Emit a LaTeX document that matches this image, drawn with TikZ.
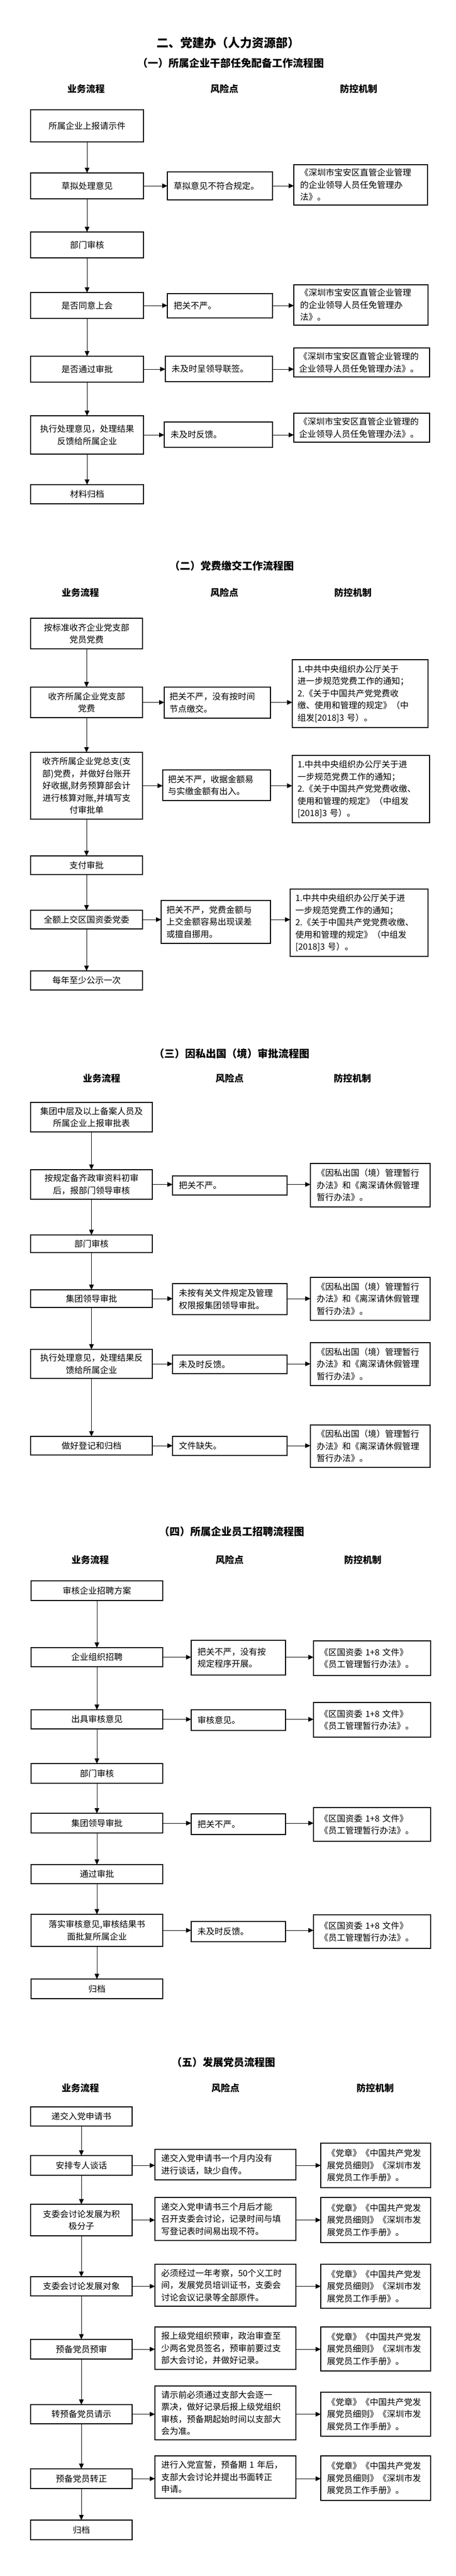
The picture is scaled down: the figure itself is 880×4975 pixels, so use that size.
\documentclass[tikz,border=0pt]{standalone}
\usepackage{fontspec}
\setmainfont{Noto Sans CJK SC}
\usetikzlibrary{arrows.meta}
\newcommand{\fs}{\fontsize{16.5}{23.5}\selectfont}
\newcommand{\bx}[8]{%
 \pgfmathsetmacro{\bxw}{#6-#4}%
 \pgfmathsetmacro{\bxh}{#7-#5}%
 \pgfmathsetmacro{\bxcx}{(#4+#6)/2}%
 \pgfmathsetmacro{\bxcy}{(#5+#7)/2}%
 \pgfmathsetmacro{\bxtw}{#6-#4-2*#3}%
 \node[#2, inner xsep=#3pt, minimum width=\bxw pt, minimum height=\bxh pt, text width=\bxtw pt] (#1) at (\bxcx,\bxcy) {#8};}
\tikzset{
 boxbase/.style={draw=black, line width=1.3pt, outer sep=0pt, inner ysep=2pt, font=\fs},
 mainb/.style={boxbase, align=center},
 riskb/.style={boxbase, align=left},
 ctrlb/.style={boxbase, align=left},
 arr/.style={-{Triangle[length=10pt,width=9pt]}, line width=1pt},
 ttl/.style={font=\bfseries\fontsize{23}{28}\selectfont},
 sttl/.style={font=\bfseries\fontsize{20}{24}\selectfont},
 hdr/.style={font=\bfseries\fontsize{18}{22}\selectfont}
}
\begin{document}
\begin{tikzpicture}[x=1pt,y=-1pt]
\fill[white] (0,0) rectangle (880,4975);
\useasboundingbox (0,0) rectangle (880,4975);
% ---------- Title ----------
\node[ttl] (t0) at (440,83) {二、党建办（人力资源部）};
% ---------- Section 1 ----------
\node[sttl] (s1) at (445,122) {（一）所属企业干部任免配备工作流程图};
\node[hdr] (h1a) at (166,172) {业务流程};
\node[hdr] (h1b) at (433,172) {风险点};
\node[hdr] (h1c) at (692,172) {防控机制};
\bx{a1}{mainb}{6}{59}{212}{277}{274}{所属企业上报请示件}
\bx{a2}{mainb}{6}{59}{334}{277}{384}{草拟处理意见}
\bx{r2}{riskb}{12}{323}{332}{526}{386}{草拟意见不符合规定。}
\bx{c2}{ctrlb}{12}{567}{318}{825}{396}{《深圳市宝安区直管企业管理\\的企业领导人员任免管理办\\法》。}
\bx{a3}{mainb}{6}{59}{448}{277}{498}{部门审核}
\bx{a4}{mainb}{6}{59}{565}{277}{615}{是否同意上会}
\bx{r4}{riskb}{12}{323}{567}{526}{614}{把关不严。}
\bx{c4}{ctrlb}{12}{567}{550}{826}{628}{《深圳市宝安区直管企业管理\\的企业领导人员任免管理办\\法》。}
\bx{a5}{mainb}{6}{59}{688}{277}{738}{是否通过审批}
\bx{r5}{riskb}{12}{319}{688}{526}{737}{未及时呈领导联签。}
\bx{c5}{ctrlb}{10}{567}{672}{829}{728}{《深圳市宝安区直管企业管理的\\企业领导人员任免管理办法》。}
\bx{a6}{mainb}{6}{59}{803}{277}{877}{执行处理意见，处理结果\\反馈给所属企业}
\bx{r6}{riskb}{12}{317}{815}{526}{864}{未及时反馈。}
\bx{c6}{ctrlb}{10}{567}{798}{829}{854}{《深圳市宝安区直管企业管理的\\企业领导人员任免管理办法》。}
\bx{a7}{mainb}{6}{59}{936}{277}{973}{材料归档}
\draw[arr] (a1) -- (a2);
\draw[arr] (a2) -- (a3);
\draw[arr] (a3) -- (a4);
\draw[arr] (a4) -- (a5);
\draw[arr] (a5) -- (a6);
\draw[arr] (a6) -- (a7);
\foreach \m/\r/\c in {a2/r2/c2, a4/r4/c4, a5/r5/c5, a6/r6/c6}{
 \draw[arr] (\m.east) -- (\m.east -| \r.west);
 \draw[arr] (\r.east |- \m.east) -- (\c.west |- \m.east);
}
% ---------- Section 2 ----------
\node[sttl] (s2) at (447,1093) {（二）党费缴交工作流程图};
\node[hdr] (h2a) at (155,1145) {业务流程};
\node[hdr] (h2b) at (433,1145) {风险点};
\node[hdr] (h2c) at (681,1145) {防控机制};
\bx{b1}{mainb}{6}{59}{1194}{275}{1253}{按标准收齐企业党支部\\党员党费}
\bx{b2}{mainb}{6}{59}{1327}{275}{1386}{收齐所属企业党支部\\党费}
\bx{rb2}{riskb}{10}{317}{1327}{522}{1387}{把关不严，没有按时间\\节点缴交。}
\bx{cb2}{ctrlb}{10}{564}{1274}{826}{1405}{1.中共中央组织办公厅关于\\进一步规范党费工作的通知；\\2.《关于中国共产党党费收\\缴、使用和管理的规定》（中\\组发[2018]3 号）。}
\bx{b3}{mainb}{6}{59}{1453}{275}{1582}{收齐所属企业党总支(支\\部)党费，并做好台账开\\好收据,财务预算部会计\\进行核算对账,并填写支\\付审批单}
\bx{rb3}{riskb}{10}{314}{1487}{522}{1546}{把关不严，收据金额易\\与实缴金额有出入。}
\bx{cb3}{ctrlb}{10}{564}{1459}{829}{1589}{1.中共中央组织办公厅关于进\\一步规范党费工作的通知；\\2.《关于中国共产党党费收缴、\\使用和管理的规定》（中组发\\{}[2018]3 号）。}
\bx{b4}{mainb}{6}{59}{1653}{275}{1689}{支付审批}
\bx{b5}{mainb}{6}{59}{1758}{275}{1794}{全额上交区国资委党委}
\bx{rb5}{riskb}{10}{311}{1739}{522}{1822}{把关不严，党费金额与\\上交金额容易出现误差\\或擅自挪用。}
\bx{cb5}{ctrlb}{10}{560}{1717}{826}{1847}{1.中共中央组织办公厅关于进\\一步规范党费工作的通知；\\2.《关于中国共产党党费收缴、\\使用和管理的规定》（中组发\\{}[2018]3 号）。}
\bx{b6}{mainb}{6}{59}{1875}{275}{1912}{每年至少公示一次}
\draw[arr] (b1) -- (b2);
\draw[arr] (b2) -- (b3);
\draw[arr] (b3) -- (b4);
\draw[arr] (b4) -- (b5);
\draw[arr] (b5) -- (b6);
\foreach \m/\r/\c in {b2/rb2/cb2, b3/rb3/cb3, b5/rb5/cb5}{
 \draw[arr] (\m.east) -- (\m.east -| \r.west);
 \draw[arr] (\r.east |- \m.east) -- (\c.west |- \m.east);
}
% ---------- Section 3 ----------
\node[sttl] (s3) at (447,2035) {（三）因私出国（境）审批流程图};
\node[hdr] (h3a) at (196,2083) {业务流程};
\node[hdr] (h3b) at (443,2083) {风险点};
\node[hdr] (h3c) at (680,2083) {防控机制};
\bx{c1}{mainb}{6}{59}{2129}{294}{2186}{集团中层及以上备案人员及\\所属企业上报审批表}
\bx{c2x}{mainb}{6}{59}{2259}{294}{2316}{按规定备齐政审资料初审\\后，报部门领导审核}
\bx{rc2}{riskb}{12}{333}{2271}{554}{2308}{把关不严。}
\bx{cc2}{ctrlb}{12}{599}{2247}{830}{2331}{《因私出国（境）管理暂行\\办法》和《离深请休假管理\\暂行办法》。}
\bx{c3}{mainb}{6}{59}{2385}{294}{2419}{部门审核}
\bx{c4x}{mainb}{6}{59}{2491}{294}{2525}{集团领导审批}
\bx{rc4}{riskb}{12}{333}{2479}{554}{2539}{未按有关文件规定及管理\\权限报集团领导审批。}
\bx{cc4}{ctrlb}{12}{599}{2467}{830}{2550}{《因私出国（境）管理暂行\\办法》和《离深请休假管理\\暂行办法》。}
\bx{c5x}{mainb}{6}{59}{2606}{294}{2662}{执行处理意见，处理结果反\\馈给所属企业}
\bx{rc5}{riskb}{12}{333}{2617}{554}{2653}{未及时反馈。}
\bx{cc5}{ctrlb}{12}{599}{2593}{830}{2676}{《因私出国（境）管理暂行\\办法》和《离深请休假管理\\暂行办法》。}
\bx{c6x}{mainb}{6}{59}{2774}{294}{2810}{做好登记和归档}
\bx{rc6}{riskb}{12}{333}{2774}{554}{2811}{文件缺失。}
\bx{cc6}{ctrlb}{12}{599}{2752}{830}{2834}{《因私出国（境）管理暂行\\办法》和《离深请休假管理\\暂行办法》。}
\draw[arr] (c1) -- (c2x);
\draw[arr] (c2x) -- (c3);
\draw[arr] (c3) -- (c4x);
\draw[arr] (c4x) -- (c5x);
\draw[arr] (c5x) -- (c6x);
\foreach \m/\r/\c in {c2x/rc2/cc2, c4x/rc4/cc4, c5x/rc5/cc5, c6x/rc6/cc6}{
 \draw[arr] (\m.east) -- (\m.east -| \r.west);
 \draw[arr] (\r.east |- \m.east) -- (\c.west |- \m.east);
}
% ---------- Section 4 ----------
\node[sttl] (s4) at (447,2958) {（四）所属企业员工招聘流程图};
\node[hdr] (h4a) at (174,3013) {业务流程};
\node[hdr] (h4b) at (443,3013) {风险点};
\node[hdr] (h4c) at (700,3013) {防控机制};
\bx{d1}{mainb}{6}{60}{3053}{314}{3091}{审核企业招聘方案}
\bx{d2}{mainb}{6}{60}{3182}{314}{3219}{企业组织招聘}
\bx{rd2}{riskb}{12}{369}{3168}{551}{3235}{把关不严，没有按\\规定程序开展。}
\bx{cd2}{ctrlb}{12}{605}{3169}{831}{3236}{《区国资委 1+8 文件》\\《员工管理暂行办法》。}
\bx{d3}{mainb}{6}{60}{3302}{314}{3339}{出具审核意见}
\bx{rd3}{riskb}{12}{369}{3302}{551}{3342}{审核意见。}
\bx{cd3}{ctrlb}{12}{605}{3288}{831}{3355}{《区国资委 1+8 文件》\\《员工管理暂行办法》。}
\bx{d4}{mainb}{6}{60}{3406}{314}{3444}{部门审核}
\bx{d5}{mainb}{6}{60}{3502}{314}{3540}{集团领导审批}
\bx{rd5}{riskb}{12}{369}{3503}{551}{3543}{把关不严。}
\bx{cd5}{ctrlb}{12}{605}{3491}{831}{3556}{《区国资委 1+8 文件》\\《员工管理暂行办法》。}
\bx{d6}{mainb}{6}{60}{3601}{314}{3638}{通过审批}
\bx{d7}{mainb}{6}{60}{3697}{314}{3759}{落实审核意见,审核结果书\\面批复所属企业}
\bx{rd7}{riskb}{12}{369}{3711}{551}{3750}{未及时反馈。}
\bx{cd7}{ctrlb}{12}{605}{3698}{831}{3763}{《区国资委 1+8 文件》\\《员工管理暂行办法》。}
\bx{d8}{mainb}{6}{60}{3822}{314}{3860}{归档}
\draw[arr] (d1) -- (d2);
\draw[arr] (d2) -- (d3);
\draw[arr] (d3) -- (d4);
\draw[arr] (d4) -- (d5);
\draw[arr] (d5) -- (d6);
\draw[arr] (d6) -- (d7);
\draw[arr] (d7) -- (d8);
\foreach \m/\r/\c in {d2/rd2/cd2, d3/rd3/cd3, d5/rd5/cd5, d7/rd7/cd7}{
 \draw[arr] (\m.east) -- (\m.east -| \r.west);
 \draw[arr] (\r.east |- \m.east) -- (\c.west |- \m.east);
}
% ---------- Section 5 ----------
\node[sttl] (s5) at (431,3983) {（五）发展党员流程图};
\node[hdr] (h5a) at (155,4033) {业务流程};
\node[hdr] (h5b) at (435,4033) {风险点};
\node[hdr] (h5c) at (724,4033) {防控机制};
\bx{e1}{mainb}{6}{59}{4069}{255}{4106}{递交入党申请书}
\bx{e2}{mainb}{6}{59}{4163}{255}{4201}{安排专人谈话}
\bx{re2}{riskb}{12}{299}{4151}{571}{4210}{递交入党申请书一个月内没有\\进行谈话，缺少自传。}
\bx{ce2}{ctrlb}{12}{619}{4139}{831}{4225}{《党章》《中国共产党发\\展党员细则》《深圳市发\\展党员工作手册》。}
\bx{e3}{mainb}{6}{59}{4257}{255}{4318}{支委会讨论发展为积\\极分子}
\bx{re3}{riskb}{12}{299}{4244}{571}{4327}{递交入党申请书三个月后才能\\召开支委会讨论，记录时间与填\\写登记表时间易出现不符。}
\bx{ce3}{ctrlb}{12}{619}{4244}{831}{4331}{《党章》《中国共产党发\\展党员细则》《深圳市发\\展党员工作手册》。}
\bx{e4}{mainb}{6}{59}{4397}{255}{4434}{支委会讨论发展对象}
\bx{re4}{riskb}{12}{299}{4373}{571}{4454}{必须经过一年考察，50个义工时\\间，发展党员培训证书，支委会\\讨论会议记录等全部原件。}
\bx{ce4}{ctrlb}{12}{619}{4373}{831}{4458}{《党章》《中国共产党发\\展党员细则》《深圳市发\\展党员工作手册》。}
\bx{e5}{mainb}{6}{59}{4518}{255}{4556}{预备党员预审}
\bx{re5}{riskb}{12}{299}{4494}{571}{4576}{报上级党组织预审，政治审查至\\少两名党员签名，预审前要过支\\部大会讨论，并做好记录。}
\bx{ce5}{ctrlb}{12}{619}{4494}{831}{4579}{《党章》《中国共产党发\\展党员细则》《深圳市发\\展党员工作手册》。}
\bx{e6}{mainb}{6}{59}{4644}{255}{4681}{转预备党员请示}
\bx{re6}{riskb}{12}{299}{4608}{571}{4712}{请示前必须通过支部大会逐一\\票决，做好记录后报上级党组织\\审核，预备期起始时间以支部大\\会为准。}
\bx{ce6}{ctrlb}{12}{619}{4620}{831}{4705}{《党章》《中国共产党发\\展党员细则》《深圳市发\\展党员工作手册》。}
\bx{e7}{mainb}{6}{59}{4768}{255}{4806}{预备党员转正}
\bx{re7}{riskb}{12}{299}{4743}{571}{4825}{进行入党宣誓，预备期 1 年后，\\支部大会讨论并提出书面转正\\申请。}
\bx{ce7}{ctrlb}{12}{619}{4743}{831}{4829}{《党章》《中国共产党发\\展党员细则》《深圳市发\\展党员工作手册》。}
\bx{e8}{mainb}{6}{59}{4867}{255}{4905}{归档}
\draw[arr] (e1) -- (e2);
\draw[arr] (e2) -- (e3);
\draw[arr] (e3) -- (e4);
\draw[arr] (e4) -- (e5);
\draw[arr] (e5) -- (e6);
\draw[arr] (e6) -- (e7);
\draw[arr] (e7) -- (e8);
\foreach \m/\r/\c in {e2/re2/ce2, e3/re3/ce3, e4/re4/ce4, e5/re5/ce5, e6/re6/ce6, e7/re7/ce7}{
 \draw[arr] (\m.east) -- (\m.east -| \r.west);
 \draw[arr] (\r.east |- \m.east) -- (\c.west |- \m.east);
}
\end{tikzpicture}
\end{document}
